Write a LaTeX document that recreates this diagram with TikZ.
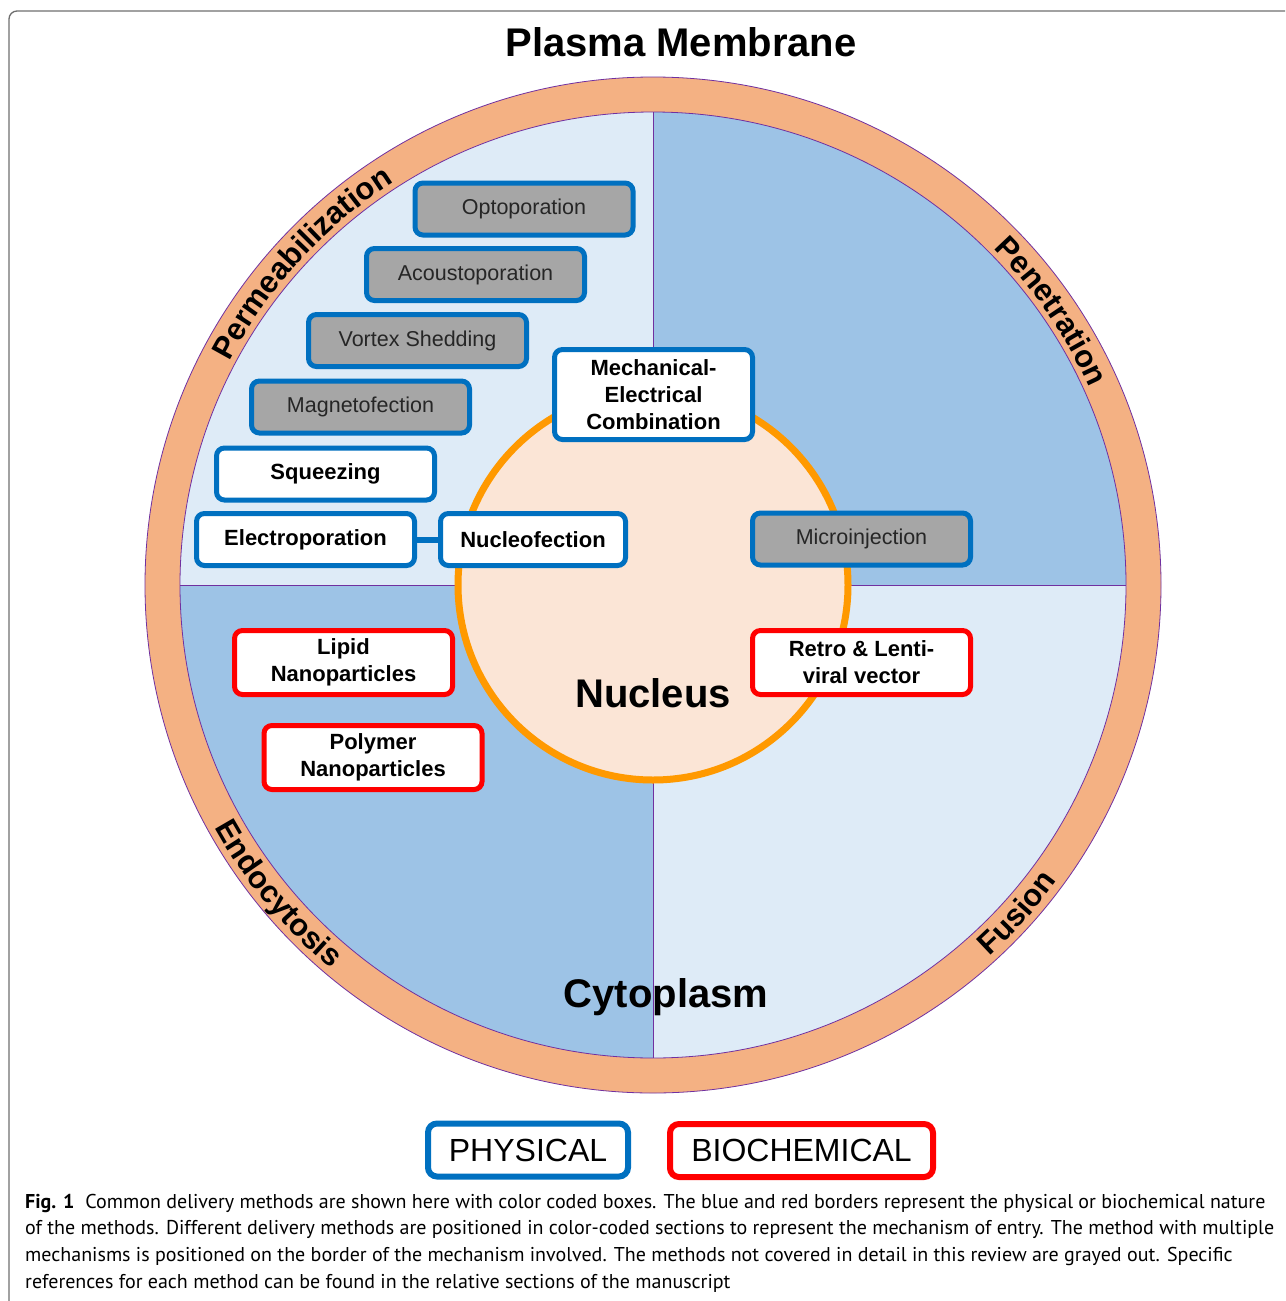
\documentclass[tikz,border=0pt]{standalone}
\usepackage{fontspec}
\setmainfont{Liberation Sans}
\newfontfamily\capfont{PT Sans}
\definecolor{ringcolor}{RGB}{244,177,131}
\definecolor{lightq}{RGB}{222,235,247}
\definecolor{darkq}{RGB}{157,195,230}
\definecolor{edgecolor}{RGB}{112,48,160}
\definecolor{nuccolor}{RGB}{251,229,214}
\definecolor{nucedge}{RGB}{255,153,0}
\definecolor{physblue}{RGB}{0,112,192}
\definecolor{biored}{RGB}{255,0,0}
\definecolor{grayfill}{RGB}{166,166,166}
\definecolor{framecolor}{RGB}{110,110,110}
\usepackage{tikz}
\usetikzlibrary{positioning, calc, decorations.text}

\begin{document}
\begin{tikzpicture}[x=1pt, y=1pt,
    method/.style={draw=physblue, line width=5pt, rounded corners=8pt, fill=white, minimum width=218pt, minimum height=52pt, inner sep=0pt, align=center, font=\fontsize{22}{27}\selectfont\bfseries},
    greyed/.style={method, fill=grayfill, text=black!85, font=\fontsize{21.5}{26}\selectfont},
    biochem/.style={method, draw=biored, minimum height=64pt},
    legend/.style={draw=#1, line width=6pt, rounded corners=9pt, fill=white, minimum height=53pt, inner sep=0pt, font=\fontsize{32}{32}\selectfont},
    ringlabel/.style={decorate, decoration={text along path, text align=center, text={|\fontsize{31}{31}\selectfont\bfseries|#1}}},
    title/.style={font=\fontsize{40}{40}\selectfont\bfseries},
    link/.style={physblue, line width=6pt}
]
    \useasboundingbox (0,0) rectangle (1285,-1301);

    % Page frame
    \draw[framecolor, line width=1.3pt, rounded corners=8pt] (9,-1301) -- (9,-11) -- (1285,-11);

    % Cell: membrane ring and four sections
    \coordinate (c) at (653,-585);
    \draw[edgecolor, line width=0.8pt, fill=ringcolor] (c) circle (508);
    \fill[lightq] (c) -- ++(90:473) arc[start angle=90, end angle=180, radius=473] -- cycle;
    \fill[darkq] (c) -- ++(0:473) arc[start angle=0, end angle=90, radius=473] -- cycle;
    \fill[darkq] (c) -- ++(180:473) arc[start angle=180, end angle=270, radius=473] -- cycle;
    \fill[lightq] (c) -- ++(270:473) arc[start angle=270, end angle=360, radius=473] -- cycle;
    \draw[edgecolor, line width=0.8pt] (c) circle (473);
    \draw[edgecolor, line width=0.8pt] ($(c)+(0,473)$) -- ($(c)+(0,-473)$);
    \draw[edgecolor, line width=0.8pt] ($(c)+(-473,0)$) -- ($(c)+(473,0)$);

    % Entry mechanisms on the membrane
    \path[ringlabel={Permeabilization}] ($(c)+(165:479)$) arc[start angle=165, end angle=110, radius=479];
    \path[ringlabel={Penetration}] ($(c)+(62:479)$) arc[start angle=62, end angle=7, radius=479];
    \path[ringlabel={Endocytosis}] ($(c)+(192:501)$) arc[start angle=192, end angle=247, radius=501];
    \path[ringlabel={Fusion}] ($(c)+(-70:501)$) arc[start angle=-70, end angle=-14, radius=501];

    % Nucleus
    \draw[nucedge, fill=nuccolor, line width=7pt] (c) circle (195);
    \node[title] (nucleus) at (653,-693) {Nucleus};
    \node[title] (cyto) at (666,-997) {Cytoplasm};
    \node[title] (membrane) at (681,-42) {Plasma Membrane};

    % Physical methods
    \node[greyed] (opto) at (524,-209) {Optoporation};
    \node[greyed] (acousto) at (475.5,-274.5) {Acoustoporation};
    \node[greyed] (vortex) at (417.5,-340.5) {Vortex Shedding};
    \node[greyed] (magneto) at (360.5,-407) {Magnetofection};
    \node[method] (squeeze) at (325.5,-474) {Squeezing};
    \node[method] (electro) at (305.5,-539.5) {Electroporation};
    \node[method, minimum width=185pt] (nucleo) at (533,-539.5) {Nucleofection};
    \node[method, minimum width=198pt, minimum height=90pt] (mecha) at (653.5,-394.5) {Mechanical-\\Electrical\\Combination};
    \node[greyed] (microinj) at (861.5,-539) {Microinjection};
    \draw[link] (electro) -- (nucleo);

    % Biochemical methods
    \node[biochem] (lipid) at (343.5,-662.5) {Lipid\\Nanoparticles};
    \node[biochem] (polymer) at (373,-757.5) {Polymer\\Nanoparticles};
    \node[biochem] (retro) at (861.5,-662.5) {Retro \& Lenti-\\viral vector};

    % Legend
    \node[legend=physblue, minimum width=200pt] (physical) at (528,-1150) {PHYSICAL};
    \node[legend=biored, minimum width=263pt] (biochemical) at (801.5,-1150.5) {BIOCHEMICAL};

    % Caption
    \node[anchor=base west, align=left, inner sep=0pt, font=\capfont\fontsize{20}{26.6}\selectfont] (caption) at (25,-1288) {\textbf{Fig. 1}\hspace{0.55em}Common delivery methods are shown here with color coded boxes. The blue and red borders represent the physical or biochemical nature\\of the methods. Different delivery methods are positioned in color-coded sections to represent the mechanism of entry. The method with multiple\\mechanisms is positioned on the border of the mechanism involved. The methods not covered in detail in this review are grayed out. Specific\\references for each method can be found in the relative sections of the manuscript};
\end{tikzpicture}
\end{document}
